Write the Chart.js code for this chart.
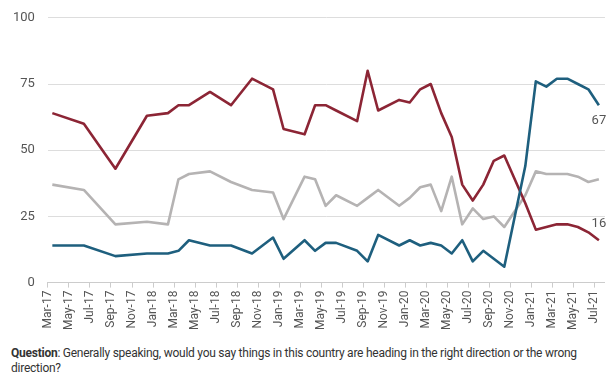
<!DOCTYPE html>
<html>
<head>
<meta charset="utf-8">
<script src="https://cdn.jsdelivr.net/npm/chart.js@4"></script>
<style>
    body { margin: 0; background: #fff; font-family: Roboto, sans-serif; }
    #wrap { position: absolute; left: 0; top: -3px; width: 612px; height: 336px; }
    #question { position: absolute; left: 11px; top: 346px; width: 600px; font-size: 12px; line-height: 15px; color: #333; letter-spacing: -0.25px; }
</style>
</head>
<body>
<div id="wrap"><canvas id="grafico"></canvas></div>
<div id="question"><b>Question</b>: Generally speaking, would you say things in this country are heading in the right direction or the wrong direction?</div>
<script>
// months counted from Mar-17 (0) to Jul-21 (52)
const tickLabels = ['Mar-17', 'May-17', 'Jul-17', 'Sep-17', 'Nov-17', 'Jan-18', 'Mar-18', 'May-18', 'Jul-18', 'Sep-18', 'Nov-18',
    'Jan-19', 'Mar-19', 'May-19', 'Jul-19', 'Sep-19', 'Nov-19', 'Jan-20', 'Mar-20', 'May-20', 'Jul-20', 'Sep-20', 'Nov-20',
    'Jan-21', 'Mar-21', 'May-21', 'Jul-21'];

// survey month of each poll (index from Mar-17)
const surveyMonths = [0, 3, 6, 9, 11, 12, 13, 15, 17, 19, 21, 22, 24, 25, 26, 27, 29, 30, 31, 33, 34, 35, 36, 37, 38,
    39, 40, 41, 42, 43, 45, 46, 47, 48, 49, 50, 51, 52];

const rightDirection = [14, 14, 10, 11, 11, 12, 16, 14, 14, 11, 17, 9, 16, 12, 15, 15, 12, 8, 18, 14, 16, 14, 15, 14, 11,
    16, 8, 12, 9, 6, 44, 76, 74, 77, 77, 75, 73, 67];
const wrongDirection = [64, 60, 43, 63, 64, 67, 67, 72, 67, 77, 73, 58, 56, 67, 67, 65, 61, 80, 65, 69, 68, 73, 75, 64, 55,
    37, 31, 37, 46, 48, 30, 20, 21, 22, 22, 21, 19, 16];
const dontKnow = [37, 35, 22, 23, 22, 39, 41, 42, 38, 35, 34, 24, 40, 39, 29, 33, 29, 32, 35, 29, 32, 36, 37, 27, 40,
    22, 28, 24, 25, 21, 33, 42, 41, 41, 41, 40, 38, 39];

const yTicks = [0, 25, 50, 75, 100];

function montarPontos(valores) {
    // polls were taken mid-month
    return valores.map((v, i) => ({ x: surveyMonths[i] + 0.42, y: v }));
}

// last value labels: 67 under the blue line, 16 above the red line
const rotuloFinal = {
    id: 'rotuloFinal',
    afterDatasetsDraw(chart) {
        const ctx = chart.ctx;
        ctx.save();
        ctx.font = '13px Roboto';
        ctx.fillStyle = '#555';
        ctx.textAlign = 'center';
        ctx.textBaseline = 'middle';
        chart.data.datasets.forEach((ds, i) => {
            if (ds.offsetRotulo === undefined) return;
            const pontos = chart.getDatasetMeta(i).data;
            const ultimo = pontos[pontos.length - 1];
            ctx.fillText(ds.data[ds.data.length - 1].y, ultimo.x, ultimo.y + ds.offsetRotulo);
        });
        ctx.restore();
    }
};

new Chart(document.getElementById('grafico'), {
    type: 'line',
    data: {
        datasets: [
            { label: 'Right direction', data: montarPontos(rightDirection), borderColor: '#1e5f7e', offsetRotulo: 16 },
            { label: 'Wrong direction', data: montarPontos(wrongDirection), borderColor: '#8c2535', offsetRotulo: -16 },
            { label: "Don't know", data: montarPontos(dontKnow), borderColor: '#b5b3b3' }
        ]
    },
    options: {
        responsive: true,
        maintainAspectRatio: false,
        animation: false,
        layout: { padding: { top: 0, right: 7, left: 0, bottom: 0 } },
        elements: {
            line: { borderWidth: 2.6, tension: 0, borderJoinStyle: 'round', fill: false },
            point: { radius: 0 }
        },
        plugins: { legend: { display: false }, tooltip: { enabled: false } },
        scales: {
            x: {
                type: 'linear',
                min: 0,
                max: 53,
                afterBuildTicks: axis => { axis.ticks = tickLabels.map((t, i) => ({ value: i * 2 })); },
                ticks: {
                    autoSkip: false,
                    minRotation: 90,
                    maxRotation: 90,
                    padding: 3,
                    color: '#555',
                    font: { family: 'Roboto', size: 12 },
                    callback: (v) => tickLabels[v / 2]
                },
                grid: { drawOnChartArea: false, tickLength: 5, color: '#ccc' },
                border: { color: '#ccc' }
            },
            y: {
                min: 0,
                max: 100,
                afterBuildTicks: axis => { axis.ticks = yTicks.map(v => ({ value: v })); },
                ticks: { padding: 13, color: '#555', font: { family: 'Roboto', size: 13 } },
                grid: { color: '#ddd', drawTicks: false },
                border: { display: false }
            }
        }
    },
    plugins: [rotuloFinal]
});
</script>
</body>
</html>
